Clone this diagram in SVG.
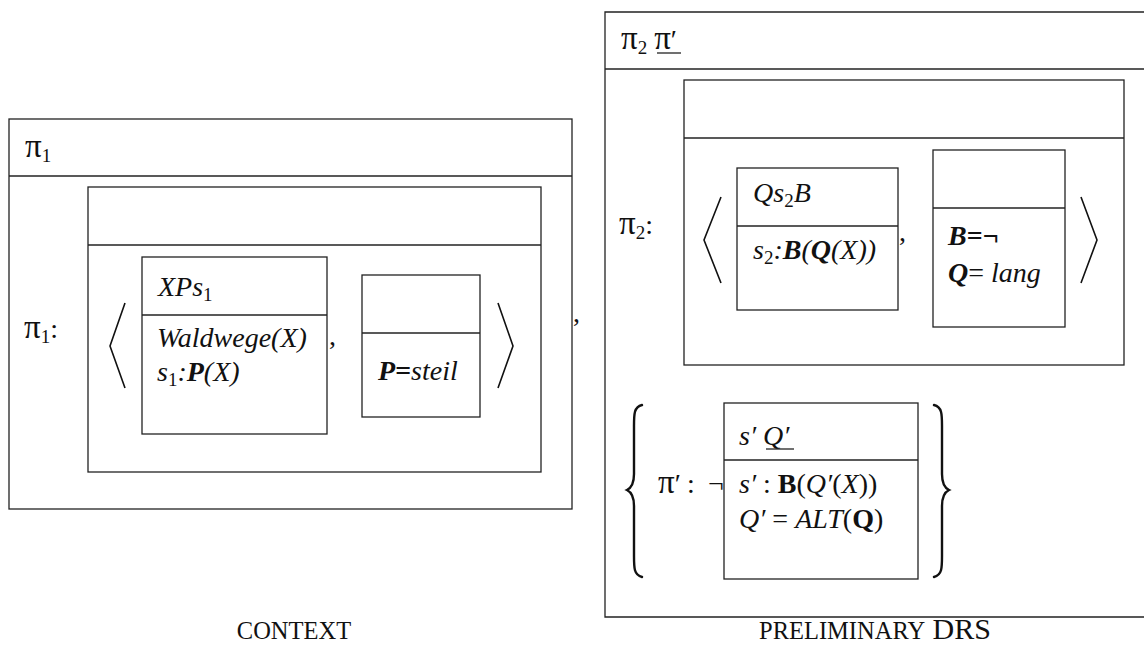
<svg xmlns="http://www.w3.org/2000/svg" width="1144" height="646" viewBox="0 0 1144 646">
<style>
.box{fill:none;stroke:#222;stroke-width:1.3}
.ln{stroke:#222;stroke-width:1.3;fill:none}
.br{stroke:#111;stroke-width:1.6;fill:none}
.brace{stroke:#111;stroke-width:2.4;fill:none;stroke-linecap:round}
text{font-family:"Liberation Serif","Times New Roman",serif;font-size:28px;fill:#111}
.i{font-style:italic}
.bi{font-style:italic;font-weight:bold}
.b{font-weight:bold}
.sub{font-size:19px}
.pi{font-size:33px}
.sc{font-size:24.5px}
.lab{font-size:30px}
</style>

<g id="context">
  <rect class="box" x="9" y="119" width="563" height="390"/>
  <line class="ln" x1="9" y1="176" x2="572" y2="176"/>
  <text x="25" y="157"><tspan class="pi">π</tspan><tspan class="sub" dy="5">1</tspan></text>
  <text x="24" y="338"><tspan class="pi">π</tspan><tspan class="sub" dy="5">1</tspan><tspan dy="-5">:</tspan></text>
  <rect class="box" x="88" y="187" width="453" height="285"/>
  <line class="ln" x1="88" y1="245" x2="541" y2="245"/>
  <polyline class="br" points="125,303 110,346 125,388"/>
  <polyline class="br" points="498,303 513,346 498,388"/>
  <text x="573" y="322">,</text>
</g>

<g id="drs-xps1">
  <rect class="box" x="142" y="257" width="185" height="177"/>
  <line class="ln" x1="142" y1="315" x2="327" y2="315"/>
  <text x="158" y="296" class="i">XPs<tspan class="sub" dy="5" style="font-style:normal">1</tspan></text>
  <text x="157" y="347" class="i">Waldwege(X)</text>
  <text x="157" y="381" class="i">s<tspan class="sub" dy="5" style="font-style:normal">1</tspan><tspan dy="-5">:</tspan><tspan class="bi">P</tspan>(X)</text>
  <text x="329" y="345">,</text>
</g>

<g id="drs-psteil">
  <rect class="box" x="362" y="275" width="118" height="142"/>
  <line class="ln" x1="362" y1="333" x2="480" y2="333"/>
  <text x="378" y="380"><tspan class="bi">P=</tspan><tspan class="i">steil</tspan></text>
</g>

<g id="preliminary">
  <path class="ln" d="M1146,12 H605 V617 H1146"/>
  <line class="ln" x1="605" y1="69" x2="1146" y2="69"/>
  <text x="621" y="49"><tspan class="pi">π</tspan><tspan class="sub" dy="5">2</tspan><tspan dy="-5"> </tspan><tspan class="pi">π</tspan>′</text>
  <line class="ln" x1="657" y1="53" x2="681" y2="53"/>
  <text x="619" y="234"><tspan class="pi">π</tspan><tspan class="sub" dy="5">2</tspan><tspan dy="-5">:</tspan></text>
  <rect class="box" x="684" y="80" width="440" height="285"/>
  <line class="ln" x1="684" y1="138" x2="1124" y2="138"/>
  <polyline class="br" points="721,197 704,240 721,283"/>
  <polyline class="br" points="1081,197 1097,240 1081,283"/>
</g>

<g id="drs-qs2b">
  <rect class="box" x="737" y="168" width="161" height="142"/>
  <line class="ln" x1="737" y1="226" x2="898" y2="226"/>
  <text x="753" y="202" class="i">Qs<tspan class="sub" dy="5" style="font-style:normal">2</tspan><tspan dy="-5">B</tspan></text>
  <text x="753" y="259" class="i">s<tspan class="sub" dy="5" style="font-style:normal">2</tspan><tspan dy="-5">:</tspan><tspan class="bi">B</tspan>(<tspan class="bi">Q</tspan>(X))</text>
  <text x="899" y="241">,</text>
</g>

<g id="drs-bq">
  <rect class="box" x="933" y="150" width="132" height="177"/>
  <line class="ln" x1="933" y1="208" x2="1065" y2="208"/>
  <text x="948" y="245"><tspan class="bi">B</tspan><tspan class="b">=¬</tspan></text>
  <text x="948" y="282"><tspan class="bi">Q</tspan>= <tspan class="i">lang</tspan></text>
</g>

<g id="set-piprime">
  <path class="brace" d="M642,405 C634,407 634,414 634,426 L634,474 C634,484 631,488 627,490 C631,492 634,496 634,506 L634,556 C634,568 634,575 642,577"/>
  <path class="brace" d="M934,405 C942,407 942,414 942,426 L942,474 C942,484 945,488 949,490 C945,492 942,496 942,506 L942,556 C942,568 942,575 934,577"/>
  <text x="658" y="493"><tspan class="pi">π</tspan>′<tspan x="687">:</tspan><tspan x="708">¬</tspan></text>
</g>

<g id="drs-sq">
  <rect class="box" x="724" y="403" width="194" height="176"/>
  <line class="ln" x1="724" y1="460" x2="918" y2="460"/>
  <text x="739" y="445" class="i">s′ Q′</text>
  <line class="ln" x1="766" y1="449" x2="794" y2="449"/>
  <text x="739" y="493"><tspan class="i">s′</tspan> : <tspan class="b">B</tspan>(<tspan class="i">Q′</tspan>(<tspan class="i">X</tspan>))</text>
  <text x="739" y="528"><tspan class="i">Q′</tspan> = <tspan class="i">ALT</tspan>(<tspan class="b">Q</tspan>)</text>
</g>

<g id="labels">
  <text x="294" y="639" text-anchor="middle" class="sc">CONTEXT</text>
  <text x="875" y="639" text-anchor="middle"><tspan class="sc">PRELIMINARY</tspan><tspan class="lab"> DRS</tspan></text>
</g>

<g id="connectors"></g>
</svg>
